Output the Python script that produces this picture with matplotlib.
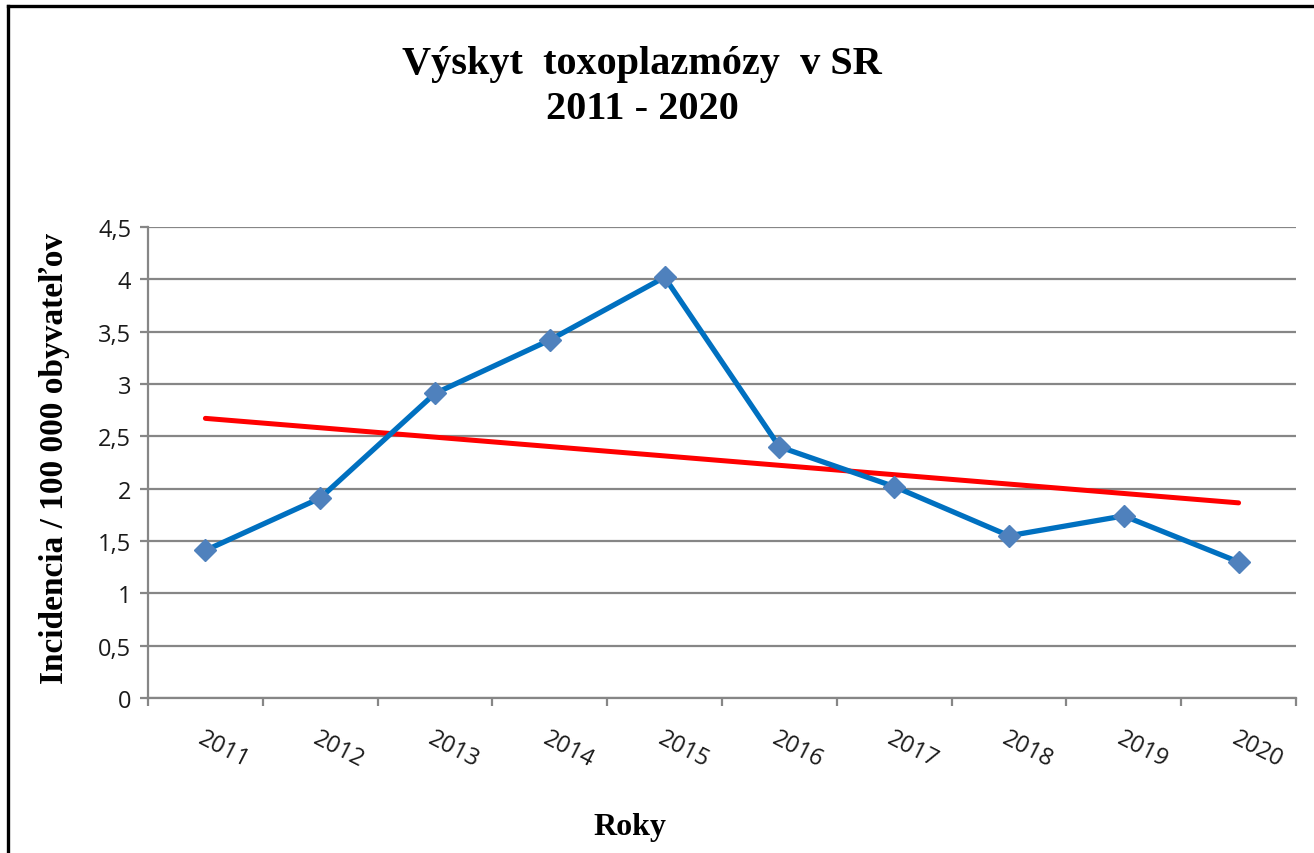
import numpy as np
import matplotlib.pyplot as plt
from matplotlib.lines import Line2D
from matplotlib.ticker import FuncFormatter

OUT_FILE = "out.png"

years = ["2011", "2012", "2013", "2014", "2015", "2016", "2017", "2018", "2019", "2020"]
incidence = [1.41, 1.91, 2.91, 3.42, 4.02, 2.40, 2.02, 1.55, 1.74, 1.30]
y_ticks = [0, 0.5, 1, 1.5, 2, 2.5, 3, 3.5, 4, 4.5]

title_text = "Výskyt  toxoplazmózy  v SR\n2011 - 2020"
ylabel_text = "Incidencia / 100 000 obyvateľov"
xlabel_text = "Roky"

GRID_GRAY = "#868686"
LINE_BLUE = "#0070C0"
MARKER_BLUE = "#4F81BD"


def comma_fmt(v, pos):
    # slovak decimal comma
    s = f"{v:g}"
    return s.replace(".", ",")


def draw_frame(fig):
    # chart border, cut off on the right and bottom like in the source
    lw = 2.4
    fig.add_artist(Line2D([8 / 1314, 8 / 1314], [1 - 7 / 854, -0.05],
                          color="black", lw=lw, transform=fig.transFigure))
    fig.add_artist(Line2D([8 / 1314, 1.05], [1 - 7 / 854, 1 - 7 / 854],
                          color="black", lw=lw, transform=fig.transFigure))


def plot_data():
    fig = plt.figure(figsize=(13.14, 8.54), dpi=100)
    ax = fig.add_axes([148 / 1314, 1 - 699 / 854, (1296 - 148) / 1314, (699 - 228) / 854])

    x = np.arange(len(years))

    # linear trend (Excel style trendline)
    slope, intercept = np.polyfit(x, incidence, 1)
    ax.plot(x, slope * x + intercept, color="#FF0000", lw=3.6, zorder=3,
            solid_capstyle="round")

    ax.plot(x, incidence, color=LINE_BLUE, lw=3.8, marker="D", ms=11,
            mfc=MARKER_BLUE, mec=MARKER_BLUE, zorder=4)

    ax.set_xlim(-0.5, len(years) - 0.5)
    ax.set_ylim(0, 4.5)
    ax.set_yticks(y_ticks)
    ax.yaxis.set_major_formatter(FuncFormatter(comma_fmt))
    ax.grid(axis="y", color=GRID_GRAY, lw=1.6)
    ax.set_axisbelow(True)

    # ticks between categories, labels on the categories
    ax.set_xticks(np.arange(-0.5, len(years), 1.0))
    ax.set_xticklabels([])
    ax.set_xticks(x, minor=True)
    ax.set_xticklabels(years, minor=True, rotation=-27, ha="left", va="top",
                       rotation_mode="anchor", fontsize=17, family="Open Sans",
                       color="#1a1a1a")
    ax.tick_params(axis="x", which="minor", length=0, pad=20)
    ax.tick_params(axis="x", which="major", length=6, width=1.6, color=GRID_GRAY,
                   direction="out")
    ax.tick_params(axis="y", length=6, width=1.6, color=GRID_GRAY, pad=6,
                   labelsize=17, labelcolor="#1a1a1a")
    for lab in ax.get_yticklabels():
        lab.set_family("Open Sans")

    for side in ["top", "right"]:
        ax.spines[side].set_visible(False)
    for side in ["left", "bottom"]:
        ax.spines[side].set_color(GRID_GRAY)
        ax.spines[side].set_linewidth(1.6)

    fig.text(642 / 1314, 1 - 87 / 854, title_text, ha="center", va="center",
             family="Liberation Serif", fontweight="bold", fontsize=29,
             linespacing=1.3)
    fig.text(55 / 1314, 1 - 458 / 854, ylabel_text, ha="center", va="center",
             rotation=90, family="Liberation Serif", fontweight="bold", fontsize=24)
    fig.text(630 / 1314, 1 - 828 / 854, xlabel_text, ha="center", va="center",
             family="Liberation Serif", fontweight="bold", fontsize=23)

    draw_frame(fig)
    fig.savefig(OUT_FILE, dpi=100)
    plt.close(fig)


def main():
    plot_data()


if __name__ == "__main__":
    main()
